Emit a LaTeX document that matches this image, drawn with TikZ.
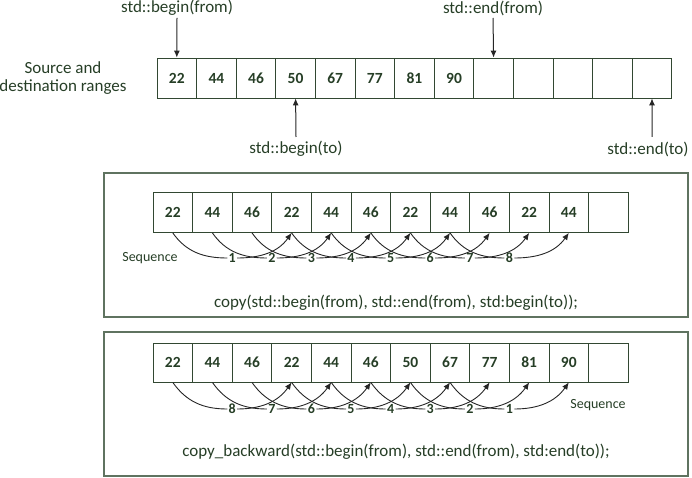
\documentclass[tikz,border=0pt]{standalone}
\usepackage{fontspec}
\setmainfont{Carlito}
\usetikzlibrary{arrows.meta}
\definecolor{txt}{RGB}{38,62,38}
\definecolor{cellline}{RGB}{50,72,50}
\definecolor{frameline}{RGB}{95,115,96}
\tikzset{
  cell/.style={draw=cellline,line width=0.8pt,minimum width=39.6pt,minimum height=40pt,inner sep=0pt,text=txt,font=\fontsize{15.5}{17}\selectfont\bfseries},
  cellb/.style={cell,minimum height=39pt},
  lbl/.style={text=txt,font=\fontsize{17}{19}\selectfont,inner sep=1pt},
  seqlbl/.style={text=txt,font=\fontsize{14}{16}\selectfont,inner sep=0pt},
  num/.style={text=txt,font=\fontsize{14}{16}\selectfont\bfseries,inner sep=1.2pt},
  frame/.style={draw=frameline,line width=1.6pt},
  ptr/.style={draw=black!85,line width=1pt,-{Latex[length=7pt,width=6pt]}},
  arc/.style={draw=black!85,line width=0.9pt},
  arcto/.style={arc,-{Latex[length=7pt,width=6pt]}}
}
\begin{document}
\begin{tikzpicture}[x=1pt,y=-1pt]
\useasboundingbox (0,0) rectangle (692,478);
% ---------- top row ----------
\node[lbl,align=center] (srclab) at (63,78) {Source and\\[-1pt]destination ranges};
\foreach \v [count=\i] in {22,44,46,50,67,77,81,90,{},{},{},{},{}}
  \node[cell] (t\i) at ({157+39.6*(\i-0.5)},78) {\v};
\node[lbl] (bf) at (177,8) {std::begin(from)};
\node[lbl] (ef) at (493,8) {std::end(from)};
\node[lbl] (bt) at (296,149) {std::begin(to)};
\node[lbl] (et) at (648,149) {std::end(to)};
\coordinate (bfs) at (177,18);
\coordinate (efs) at (493,18);
\coordinate (bts) at (296,137);
\coordinate (ets) at (652,137);
\draw[ptr] (bfs) -- (t1.north);
\draw[ptr] (efs) -- (t9.north);
\draw[ptr] (bts) -- (t4.south);
\draw[ptr] (ets) -- (t13.south);
% ---------- copy box ----------
\draw[frame] (104,173) rectangle (688,317);
\foreach \v [count=\i] in {22,44,46,22,44,46,22,44,46,22,44,{}}
  \node[cell] (a\i) at ({153+39.6*(\i-0.5)},212.5) {\v};
\node[seqlbl] (seqa) at (150,258) {Sequence};
\foreach \i in {1,...,8}{
  \pgfmathtruncatemacro\j{\i+3}
  \node[num] (na\i) at ({153+39.6*(\i+1)},258) {\i};
  \draw[arc] (a\i.south) to[out=-55,in=180] (na\i.west);
  \draw[arcto] (na\i.east) to[out=0,in=-125] (a\j.south);
}
\node[lbl] (copytxt) at (396,303) {copy(std::begin(from), std::end(from), std:begin(to));};
% ---------- copy_backward box ----------
\draw[frame] (104,332) rectangle (688,476);
\foreach \v [count=\i] in {22,44,46,22,44,46,50,67,77,81,90,{}}
  \node[cellb] (b\i) at ({153+39.6*(\i-0.5)},362.5) {\v};
\node[seqlbl] (seqb) at (598,405) {Sequence};
\foreach \i in {1,...,8}{
  \pgfmathtruncatemacro\j{\i+3}
  \pgfmathtruncatemacro\k{9-\i}
  \node[num] (nb\i) at ({153+39.6*(\i+1)},409) {\k};
  \draw[arc] (b\i.south) to[out=-55,in=180] (nb\i.west);
  \draw[arcto] (nb\i.east) to[out=0,in=-125] (b\j.south);
}
\node[lbl] (cbtxt) at (396,452) {copy\_backward(std::begin(from), std::end(from), std:end(to));};
\end{tikzpicture}
\end{document}
